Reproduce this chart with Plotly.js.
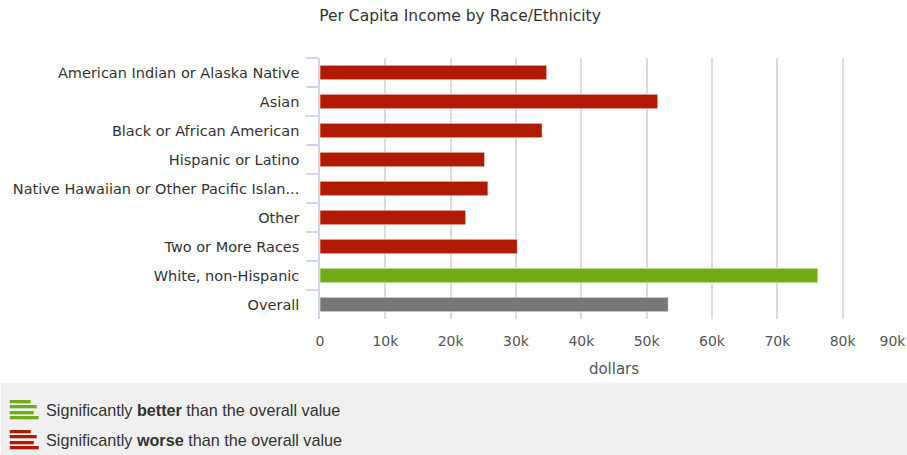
<!DOCTYPE html>
<html>
<head>
<meta charset="utf-8">
<script src="https://cdn.plot.ly/plotly-3.0.1.min.js"></script>
<style>
html,body{margin:0;padding:0;overflow:hidden;background:#fff;}
#chart{width:920px;height:455px;}
</style>
</head>
<body>
<div id="chart"></div>
<script>
// ---- data ----
var categories = [
  "American Indian or Alaska Native",
  "Asian",
  "Black or African American",
  "Hispanic or Latino",
  "Native Hawaiian or Other Pacific Islan...",
  "Other",
  "Two or More Races",
  "White, non-Hispanic",
  "Overall"
];
var incomeValues = [34700, 51700, 34000, 25200, 25700, 22300, 30200, 76200, 53300];
var significance = ["worse","worse","worse","worse","worse","worse","worse","better","overall"];
var xTickValues = [0, 10000, 20000, 30000, 40000, 50000, 60000, 70000, 80000, 90000];
var xTickLabels = ["0", "10k", "20k", "30k", "40k", "50k", "60k", "70k", "80k", "90k\u00a0\u00a0\u00a0\u00a0\u00a0\u00a0\u00a0"];
var legendLabels = [
  "Significantly <b>better</b> than the overall value",
  "Significantly <b>worse</b> than the overall value"
];

// ---- styles ----
var colorMap = {worse: "#b01a00", better: "#72ab16", overall: "#777777"};
var barColors = significance.map(function(s){ return colorMap[s]; });

var W = 920, H = 455;
var L = 319.5, R = 12, T = 58, B = H - 319;
var plotW = W - L - R, plotH = H - T - B;
function px(xp){ return (xp - L) / plotW; }
function py(yp){ return (H - B - yp) / plotH; }

var shapes = [];
// legend background
shapes.push({type:"rect", xref:"paper", yref:"paper", x0:px(0), x1:px(W), y0:py(383), y1:py(H),
  fillcolor:"#f0f0f0", line:{width:0}, layer:"below"});
// legend icons
var iconBars = [[30,400],[36,405],[33,411],[38,416]];
[["better",0],["worse",30]].forEach(function(item){
  iconBars.forEach(function(b){
    shapes.push({type:"rect", xref:"paper", yref:"paper",
      x0:px(9), x1:px(b[0]), y0:py(b[1]+item[1]), y1:py(b[1]+item[1]+3.3),
      fillcolor:colorMap[item[0]], line:{width:0}});
  });
});

var annotations = legendLabels.map(function(t, i){
  return {xref:"paper", yref:"paper", x:px(43), y:py(410 + i*29.5), xanchor:"left", yanchor:"middle",
    text:t, showarrow:false, font:{family:"Liberation Sans, Arial, sans-serif", size:16.2, color:"#333"}};
});

var trace = {
  type:"bar", orientation:"h",
  y: categories, x: incomeValues,
  marker:{color: barColors, line:{color:"rgba(255,255,255,0.55)", width:1}},
  width: 0.5,
  hoverinfo:"x+y"
};

var layout = {
  width: W, height: H,
  margin:{l:L, r:R, t:T, b:B, pad:0},
  paper_bgcolor:"#ffffff", plot_bgcolor:"#ffffff",
  showlegend:false,
  title:{text:"Per Capita Income by Race/Ethnicity", x:0.5, xref:"container", xanchor:"center", y:1, yref:"container", yanchor:"top",
    pad:{t:10}, font:{family:"DejaVu Sans, sans-serif", size:15.5, color:"#333333"}},
  xaxis:{
    range:[0, 90000], tickvals:xTickValues, ticktext:xTickLabels,
    showgrid:true, gridcolor:"#dcdcdc", gridwidth:1.5, zeroline:false,
    showline:false, ticks:"", fixedrange:true, ticklabeloverflow:"allow",
    ticklabelstandoff:12,
    tickfont:{family:"DejaVu Sans, sans-serif", size:14, color:"#555"},
    title:{text:"dollars", standoff:15, font:{family:"DejaVu Sans, sans-serif", size:15, color:"#555"}}
  },
  yaxis:{
    type:"category", autorange:"reversed",
    showline:true, linecolor:"#ccd6eb", linewidth:1.5,
    ticks:"outside", tickson:"boundaries", ticklen:12, tickcolor:"#ccd6eb", tickwidth:1.5,
    showgrid:false, zeroline:false, fixedrange:true, ticklabelstandoff:16,
    tickfont:{family:"DejaVu Sans, sans-serif", size:14.5, color:"#333"}
  },
  shapes: shapes,
  annotations: annotations,
  bargap: 0.5
};

Plotly.newPlot("chart", [trace], layout, {displayModeBar:false, staticPlot:false});
</script>
</body>
</html>
